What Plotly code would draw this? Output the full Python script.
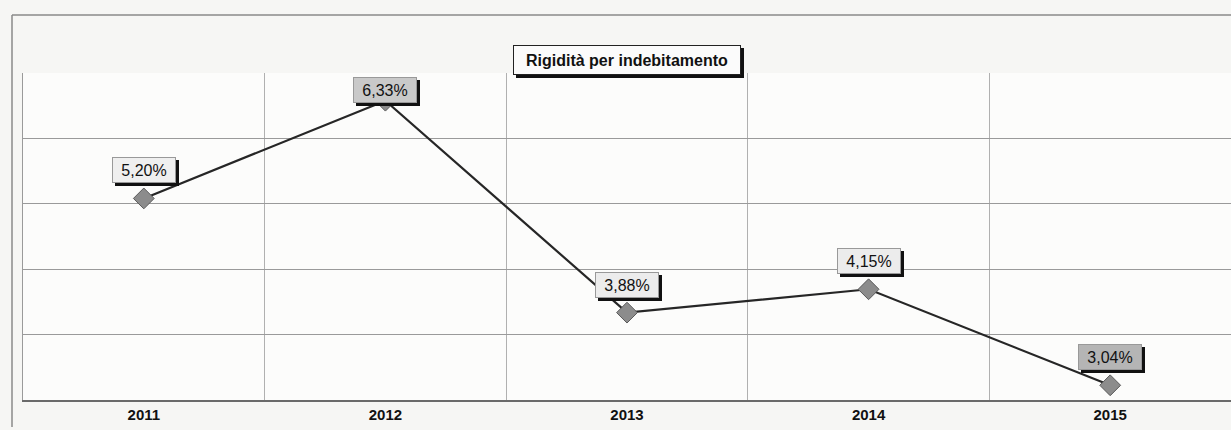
import plotly.graph_objects as go

# data
years = ["2011", "2012", "2013", "2014", "2015"]
rigidita = [5.20, 6.33, 3.88, 4.15, 3.04]
labels = ["5,20%", "6,33%", "3,88%", "4,15%", "3,04%"]

# label box shading (scan shows some darker boxes)
label_bg = ["#efefef", "#c9c9c9", "#ececec", "#ececec", "#b5b5b5"]

W, H = 1231, 430
L, T, B = 23, 73, 30
plot_h = H - T - B
y_min, y_max = 2.87, 6.65
FONT = "Arial, Liberation Sans, sans-serif"

xs = list(range(len(years)))
bounds = [i + 0.5 for i in xs[:-1]]

fig = go.Figure()

fig.add_trace(go.Scatter(
    x=xs, y=rigidita,
    mode="lines+markers",
    line=dict(color="#262626", width=2.2),
    marker=dict(symbol="diamond", size=16, color="#8c8c8c",
                line=dict(color="#5a5a5a", width=1)),
    hoverinfo="skip",
    showlegend=False,
))

# value labels with a dark drop shadow (shadow = empty box of same size)
LW, LH = 56, 18
for xi, v, txt, bg in zip(xs, rigidita, labels, label_bg):
    py = T + (y_max - v) / (y_max - y_min) * plot_h
    shift = min(28, py - T - 17)
    box = dict(x=xi, y=v, xref="x", yref="y", showarrow=False,
               width=LW, height=LH, borderpad=3, borderwidth=1,
               font=dict(family=FONT, size=16, color="#111"))
    fig.add_annotation(**box, text=" ", xshift=3, yshift=shift - 3,
                       bgcolor="#111", bordercolor="#111")
    fig.add_annotation(**box, text=txt, yshift=shift,
                       bgcolor=bg, bordercolor="#999")

# title box with shadow
title_y = 1 + (T - 45) / plot_h
tbox = dict(x=0.5, y=title_y, xref="paper", yref="paper", showarrow=False,
            width=220, height=22, borderpad=3, borderwidth=1,
            font=dict(family=FONT, size=16, color="#111"))
fig.add_annotation(**tbox, text=" ", xshift=3, yshift=-3,
                   bgcolor="#111", bordercolor="#111")
fig.add_annotation(**tbox, text="<b>Rigidità per indebitamento</b>",
                   bgcolor="#fbfbfb", bordercolor="#222")

# outer frame
plot_w = W - L
fx = (12 - L) / plot_w
fy_top = 1 + (T - 15) / plot_h
fy_bot = -(H - 3 - (H - B)) / plot_h
fig.add_shape(type="line", xref="paper", yref="paper", x0=fx, x1=1.01,
              y0=fy_top, y1=fy_top, line=dict(color="#8a8a8a", width=1.5))
fig.add_shape(type="line", xref="paper", yref="paper", x0=fx, x1=fx,
              y0=fy_top, y1=fy_bot, line=dict(color="#8a8a8a", width=1.5))

fig.update_layout(
    width=W, height=H,
    margin=dict(l=L, r=0, t=T, b=B),
    paper_bgcolor="#f6f6f4",
    plot_bgcolor="#fcfcfb",
    xaxis=dict(
        range=[-0.5, len(years) - 0.5],
        tickvals=xs, ticktext=["<b>%s</b>" % y for y in years],
        showgrid=False,
        minor=dict(tickvals=bounds, showgrid=True, gridcolor="#b0b0b0",
                   gridwidth=1, ticks=""),
        showline=True, linecolor="#6a6a6a", linewidth=2, mirror=False,
        ticks="", tickfont=dict(family=FONT, size=15, color="#111"),
        zeroline=False,
    ),
    yaxis=dict(
        range=[y_min, y_max], tick0=y_min, dtick=(y_max - y_min) / 5,
        showgrid=True, gridcolor="#9a9a9a", gridwidth=1,
        showticklabels=False, ticks="", zeroline=False,
        showline=True, linecolor="#9a9a9a", linewidth=1, mirror=True,
    ),
)

fig.write_html("out.html", config={"displayModeBar": False},
               post_script="document.body.style.margin='0';")
